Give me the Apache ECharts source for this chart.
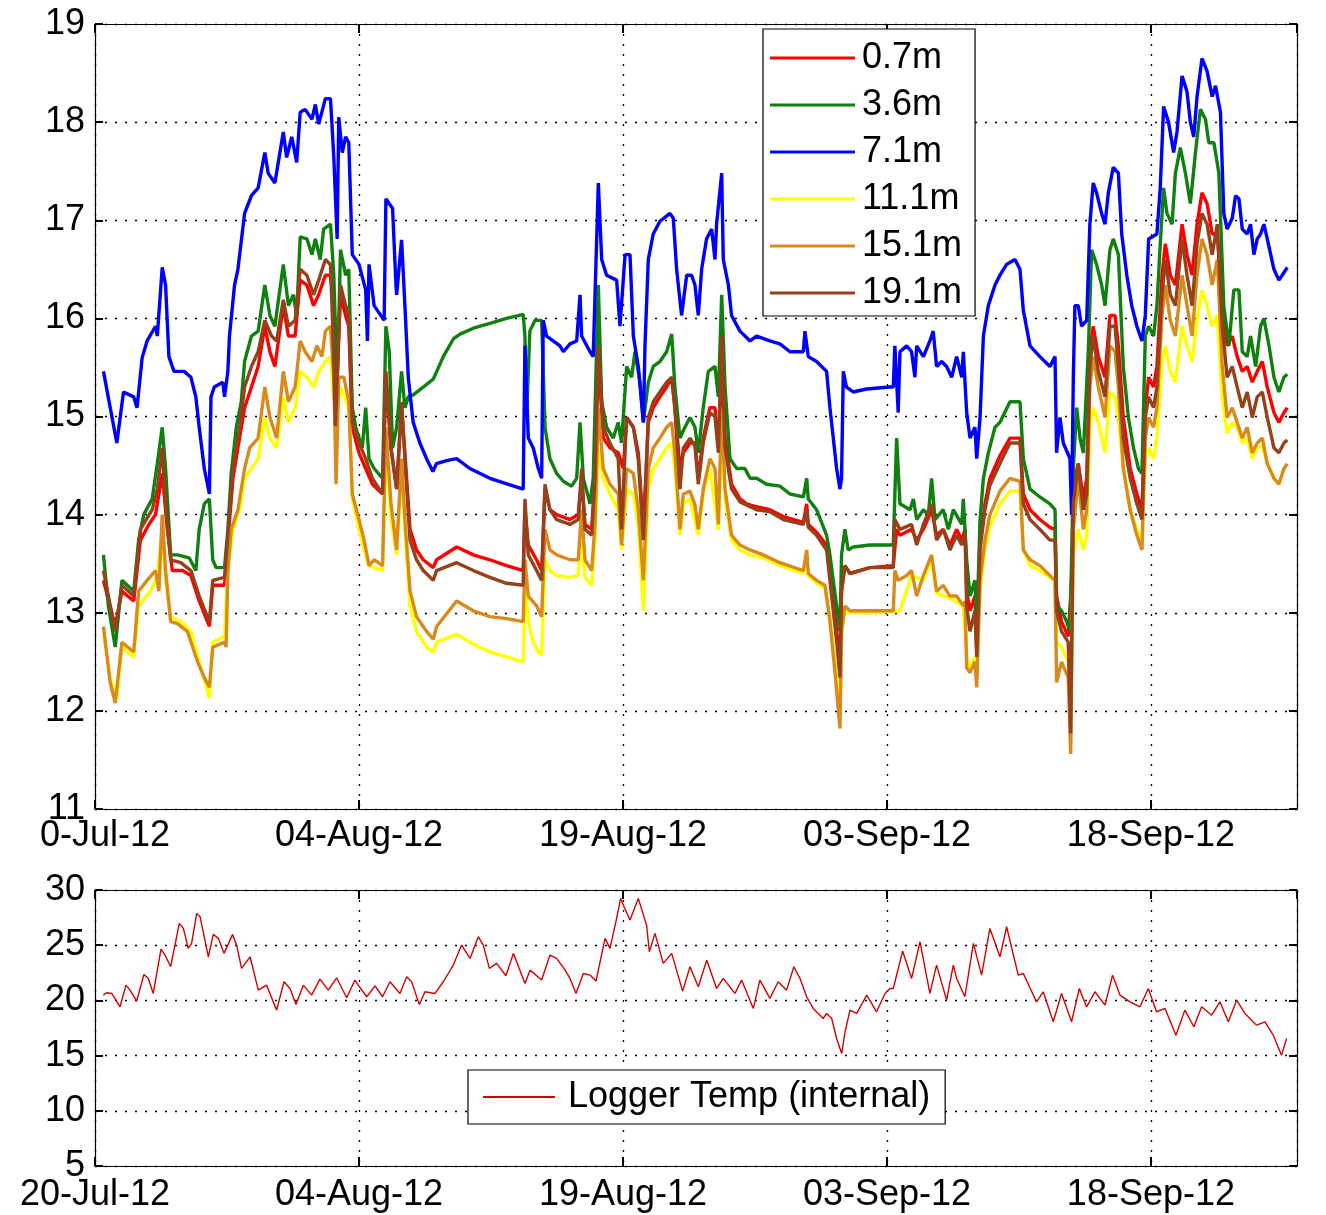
<!DOCTYPE html>
<html>
<head>
<meta charset="utf-8">
<script src="https://cdn.jsdelivr.net/npm/echarts@6/dist/echarts.min.js"></script>
<style>html,body{margin:0;padding:0;background:#fff}#c{width:1326px;height:1215px}</style>
</head>
<body>
<div id="c"></div>
<script>
// x values: days since 20-Jul-2012 00:00
const xTickLabels = ['20-Jul-12','04-Aug-12','19-Aug-12','03-Sep-12','18-Sep-12'];
const seriesNames = ['0.7m','3.6m','7.1m','11.1m','15.1m','19.1m'];
const loggerName = 'Logger Temp (internal)';

const s07 = [[0.48,13.33],[1.15,12.86],[1.53,13.22],[2.2,13.12],[2.58,13.74],[3.06,13.9],[3.44,14.0],[3.82,14.42],[4.11,13.85],[4.39,13.43],[4.97,13.43],[5.45,13.38],[5.92,13.12],[6.5,12.86],[6.69,13.28],[7.36,13.28],[7.55,13.74],[7.84,14.37],[8.12,14.68],[8.5,15.09],[8.89,15.3],[9.27,15.51],[9.65,15.92],[9.94,15.66],[10.22,15.51],[10.7,16.13],[10.99,15.82],[11.37,15.82],[11.66,16.39],[12.04,16.34],[12.42,16.13],[12.71,16.24],[13.09,16.44],[13.38,16.44],[13.57,16.13],[13.76,15.4],[13.95,16.24],[14.24,16.03],[14.42,15.92],[14.62,14.89],[15.0,14.63],[15.38,14.47],[15.76,14.31],[16.34,14.21],[16.53,15.4],[16.82,14.68],[17.14,14.26],[17.42,15.09],[17.61,14.63],[17.9,13.85],[18.27,13.64],[18.65,13.54],[19.22,13.46],[19.41,13.54],[20.55,13.67],[21.5,13.59],[22.44,13.54],[23.39,13.48],[24.33,13.43],[24.43,14.05],[24.62,13.69],[25.09,13.54],[25.38,13.43],[25.57,14.26],[25.85,14.05],[26.23,14.0],[26.99,13.95],[27.46,14.0],[27.65,14.37],[27.84,13.9],[28.22,13.85],[28.41,14.37],[28.6,15.61],[28.88,14.78],[29.26,14.68],[29.73,14.63],[30.02,14.47],[30.21,14.99],[30.59,14.89],[30.87,14.63],[31.16,13.85],[31.44,14.94],[31.72,15.09],[32.1,15.2],[32.48,15.3],[32.77,15.4],[32.95,15.09],[33.24,14.47],[33.43,14.63],[33.81,14.73],[34.09,14.73],[34.28,14.37],[34.56,14.78],[34.94,15.09],[35.23,15.09],[35.42,14.68],[35.61,15.51],[35.8,14.78],[36.17,14.31],[36.65,14.16],[37.03,14.11],[37.59,14.08],[38.35,14.05],[39.11,13.98],[40.25,13.92],[40.44,14.11],[40.53,13.9],[41.0,13.82],[41.57,13.69],[41.76,13.43],[42.14,12.81],[42.33,12.5],[42.42,13.22],[42.61,13.48],[42.9,13.4],[44.03,13.46],[45.36,13.48],[45.55,13.85],[45.74,13.79],[46.4,13.85],[46.69,13.74],[47.07,13.85],[47.54,14.05],[47.82,13.79],[48.2,13.85],[48.58,13.69],[48.96,13.85],[49.25,13.74],[49.44,13.85],[49.53,13.22],[49.72,13.02],[50.0,13.17],[50.1,12.65],[50.29,13.74],[50.57,14.11],[50.85,14.37],[51.42,14.6],[51.99,14.78],[52.56,14.78],[52.75,14.21],[53.13,14.05],[53.69,13.95],[54.26,13.87],[54.55,13.85],[54.64,13.17],[54.92,12.91],[55.3,12.76],[55.49,13.33],[55.68,14.37],[55.87,14.52],[56.16,14.16],[56.35,14.37],[56.53,15.66],[56.72,15.92],[57.01,15.61],[57.39,15.4],[57.67,16.03],[57.96,16.03],[58.15,15.72],[58.43,14.99],[58.82,14.47],[59.2,14.21],[59.49,14.05],[59.68,15.09],[59.87,15.4],[60.15,15.3],[60.34,15.51],[60.63,16.44],[60.82,16.76],[61.1,16.44],[61.39,16.34],[61.77,16.96],[62.05,16.65],[62.34,16.44],[62.62,16.96],[62.9,17.28],[63.19,17.17],[63.48,16.86],[63.77,16.86],[64.05,16.13],[64.33,15.72],[64.62,15.82],[64.9,15.61],[65.19,15.46],[65.47,15.51],[65.76,15.35],[66.04,15.46],[66.33,15.56],[66.61,15.3],[66.99,15.04],[67.27,14.94],[67.56,15.04],[67.75,15.09]];

const s36 = [[0.48,13.59],[0.76,13.07],[1.15,12.65],[1.53,13.33],[2.2,13.22],[2.48,13.74],[2.77,14.0],[3.25,14.16],[3.54,14.52],[3.82,14.89],[4.01,14.47],[4.3,13.59],[4.68,13.59],[5.35,13.56],[5.73,13.43],[5.92,13.85],[6.21,14.11],[6.5,14.16],[6.69,13.54],[6.88,13.46],[7.36,13.46],[7.55,13.85],[7.74,14.42],[8.03,14.89],[8.31,15.15],[8.5,15.56],[8.89,15.82],[9.27,15.87],[9.65,16.34],[9.94,16.03],[10.22,15.92],[10.7,16.55],[10.99,16.13],[11.27,16.24],[11.46,16.03],[11.66,16.83],[12.04,16.81],[12.33,16.65],[12.52,16.81],[12.8,16.6],[12.99,16.91],[13.38,16.96],[13.57,16.44],[13.76,15.3],[13.95,16.7],[14.24,16.44],[14.42,16.5],[14.62,15.09],[14.81,14.89],[15.19,14.68],[15.38,15.09],[15.57,14.57],[15.86,14.47],[16.34,14.37],[16.53,15.92],[16.72,15.66],[16.91,14.68],[17.14,14.89],[17.42,15.46],[17.61,15.09],[17.8,15.2],[18.08,15.22],[18.65,15.3],[19.22,15.38],[19.79,15.61],[20.36,15.79],[20.74,15.84],[21.5,15.9],[22.44,15.95],[23.39,16.0],[24.33,16.04],[24.43,15.82],[24.52,14.99],[24.71,15.87],[25.0,15.98],[25.38,15.98],[25.57,14.89],[25.85,14.57],[26.23,14.42],[26.61,14.34],[27.08,14.29],[27.37,14.37],[27.56,14.94],[27.75,14.37],[28.13,14.11],[28.31,14.37],[28.6,16.34],[28.79,15.15],[29.07,14.89],[29.45,14.78],[29.73,14.94],[29.92,14.73],[30.21,15.51],[30.49,15.4],[30.68,15.66],[30.97,15.35],[31.16,14.94],[31.44,15.35],[31.72,15.51],[32.1,15.56],[32.48,15.66],[32.77,15.84],[32.95,15.3],[33.24,14.78],[33.52,14.89],[33.81,14.99],[34.09,14.89],[34.28,14.63],[34.56,15.09],[34.85,15.46],[35.23,15.51],[35.42,15.2],[35.61,16.24],[35.8,15.3],[36.08,14.57],[36.46,14.47],[36.93,14.47],[37.22,14.37],[37.59,14.37],[38.16,14.31],[38.92,14.29],[39.49,14.21],[40.25,14.18],[40.44,14.37],[40.53,14.16],[41.0,14.05],[41.57,13.79],[41.76,13.59],[42.14,13.07],[42.33,12.81],[42.42,13.59],[42.61,13.85],[42.8,13.64],[43.08,13.67],[44.03,13.69],[45.36,13.69],[45.55,14.78],[45.74,14.11],[46.31,14.05],[46.5,14.16],[46.69,13.95],[47.07,14.05],[47.35,14.0],[47.54,14.37],[47.73,13.95],[48.2,14.05],[48.49,13.85],[48.77,14.05],[49.25,13.9],[49.34,14.16],[49.53,13.54],[49.72,13.17],[50.0,13.33],[50.1,12.81],[50.29,13.95],[50.48,14.37],[50.76,14.63],[51.14,14.89],[51.42,14.94],[51.99,15.15],[52.56,15.15],[52.75,14.57],[53.13,14.26],[53.69,14.18],[54.26,14.11],[54.55,14.05],[54.64,13.07],[54.92,13.02],[55.21,12.91],[55.4,12.81],[55.49,13.54],[55.59,14.47],[55.78,15.09],[55.97,14.78],[56.16,14.63],[56.44,15.66],[56.63,16.7],[56.91,16.55],[57.2,16.34],[57.39,16.13],[57.67,16.7],[57.86,16.81],[58.15,16.65],[58.43,15.51],[58.72,14.99],[59.01,14.68],[59.29,14.47],[59.49,14.42],[59.68,15.82],[59.87,15.92],[60.15,15.82],[60.34,16.13],[60.53,16.76],[60.72,17.33],[60.91,17.07],[61.2,16.96],[61.39,17.48],[61.67,17.74],[61.96,17.48],[62.24,17.17],[62.53,17.69],[62.81,18.13],[63.1,18.03],[63.29,17.79],[63.58,17.79],[63.86,17.48],[64.14,16.13],[64.43,15.72],[64.71,16.29],[65.0,16.29],[65.19,15.66],[65.47,15.61],[65.66,15.82],[65.95,15.51],[66.23,15.92],[66.42,16.0],[66.71,15.72],[66.99,15.4],[67.27,15.25],[67.56,15.4],[67.75,15.43]];

const s71 = [[0.48,15.46],[1.24,14.73],[1.62,15.25],[2.2,15.2],[2.39,15.09],[2.68,15.6],[2.96,15.77],[3.44,15.92],[3.54,15.82],[3.82,16.52],[4.01,16.34],[4.2,15.61],[4.49,15.46],[5.06,15.46],[5.45,15.4],[5.73,15.2],[5.92,14.89],[6.21,14.47],[6.5,14.21],[6.59,15.2],[6.78,15.3],[7.26,15.35],[7.36,15.2],[7.55,15.46],[7.64,15.82],[7.93,16.34],[8.12,16.5],[8.5,17.07],[8.89,17.25],[9.27,17.33],[9.65,17.69],[9.84,17.48],[10.22,17.38],[10.7,17.9],[10.89,17.64],[11.18,17.85],[11.46,17.59],[11.66,18.1],[11.94,18.13],[12.33,18.03],[12.52,18.18],[12.71,17.98],[13.09,18.24],[13.38,18.24],[13.57,17.64],[13.76,16.81],[13.85,18.05],[14.05,17.69],[14.24,17.85],[14.42,17.79],[14.62,16.65],[15.0,16.55],[15.38,16.29],[15.48,15.77],[15.57,16.55],[15.86,16.13],[16.43,15.98],[16.53,17.22],[16.91,17.12],[17.1,16.34],[17.14,16.24],[17.42,16.8],[17.61,16.13],[17.8,15.4],[18.08,14.94],[18.46,14.73],[18.84,14.57],[19.2,14.44],[19.4,14.52],[19.98,14.55],[20.55,14.57],[21.3,14.47],[22.44,14.37],[24.33,14.26],[24.43,15.72],[24.62,14.78],[24.9,14.68],[25.19,14.47],[25.38,14.37],[25.47,15.98],[25.66,15.82],[26.42,15.72],[26.61,15.66],[26.99,15.74],[27.37,15.77],[27.56,16.24],[27.65,15.82],[28.13,15.66],[28.31,15.61],[28.6,17.38],[28.79,16.6],[29.07,16.44],[29.64,16.39],[29.83,15.92],[30.12,16.65],[30.4,16.65],[30.59,15.82],[30.87,15.51],[31.16,14.94],[31.25,15.72],[31.44,16.6],[31.72,16.86],[32.1,16.99],[32.67,17.07],[32.86,17.02],[33.05,16.5],[33.33,16.03],[33.62,16.44],[33.9,16.44],[34.09,16.34],[34.28,16.03],[34.47,16.5],[34.75,16.81],[35.04,16.91],[35.23,16.6],[35.32,16.96],[35.61,17.48],[35.7,16.6],[35.99,16.34],[36.17,16.03],[36.65,15.87],[37.22,15.77],[37.59,15.82],[38.35,15.77],[38.92,15.74],[39.49,15.66],[40.25,15.66],[40.34,15.87],[40.53,15.61],[41.0,15.56],[41.57,15.46],[41.76,15.09],[42.14,14.47],[42.33,14.26],[42.42,14.37],[42.52,15.46],[42.7,15.3],[43.08,15.25],[43.84,15.28],[45.17,15.3],[45.36,15.3],[45.45,15.72],[45.64,15.04],[45.74,15.66],[46.12,15.72],[46.4,15.66],[46.59,15.4],[46.69,15.72],[47.07,15.61],[47.44,15.77],[47.63,15.87],[47.82,15.51],[48.11,15.56],[48.39,15.51],[48.68,15.4],[48.96,15.61],[49.25,15.4],[49.34,15.66],[49.53,15.04],[49.72,14.78],[50.0,14.89],[50.1,14.57],[50.29,14.99],[50.48,15.82],[50.76,16.13],[51.14,16.34],[51.42,16.44],[51.8,16.55],[52.27,16.6],[52.56,16.5],[52.75,16.08],[53.13,15.72],[53.69,15.61],[54.26,15.51],[54.55,15.61],[54.64,14.63],[54.83,14.99],[55.02,14.73],[55.4,14.57],[55.49,14.0],[55.59,15.4],[55.68,16.13],[55.87,16.13],[56.06,15.92],[56.35,15.98],[56.53,16.96],[56.72,17.38],[56.91,17.28],[57.2,17.07],[57.39,16.96],[57.58,17.28],[57.86,17.54],[58.15,17.48],[58.34,16.86],[58.63,16.44],[58.91,16.13],[59.2,15.92],[59.49,15.77],[59.68,16.03],[59.87,16.81],[60.06,16.83],[60.34,16.86],[60.53,17.33],[60.72,18.16],[61.0,18.0],[61.29,17.69],[61.48,17.9],[61.77,18.47],[62.05,18.31],[62.24,18.0],[62.43,17.85],[62.62,18.26],[62.9,18.65],[63.19,18.52],[63.48,18.26],[63.67,18.37],[63.95,18.1],[64.14,17.07],[64.33,16.91],[64.62,17.02],[64.81,17.25],[65.0,17.22],[65.19,16.91],[65.47,16.86],[65.66,16.96],[65.85,16.65],[66.04,16.81],[66.23,16.86],[66.42,16.96],[66.61,16.81],[66.99,16.5],[67.27,16.39],[67.46,16.44],[67.75,16.52]];

const s111 = [[0.48,12.81],[0.86,12.34],[1.24,12.13],[1.53,12.65],[2.2,12.55],[2.48,13.07],[3.15,13.22],[3.54,13.38],[3.82,13.85],[4.01,13.33],[4.3,12.96],[4.87,12.91],[5.45,12.81],[6.02,12.44],[6.5,12.13],[6.69,12.7],[7.36,12.76],[7.55,13.43],[7.84,13.85],[8.22,14.05],[8.5,14.37],[8.89,14.47],[9.27,14.57],[9.65,14.99],[9.94,14.78],[10.32,14.68],[10.7,15.2],[10.99,14.94],[11.37,15.09],[11.66,15.46],[12.04,15.4],[12.42,15.3],[12.71,15.46],[13.09,15.56],[13.38,15.61],[13.57,15.2],[13.76,15.09],[13.95,15.3],[14.42,15.09],[14.62,14.16],[15.0,13.85],[15.29,13.64],[15.57,13.48],[16.34,13.43],[16.53,14.73],[16.82,13.95],[17.14,13.59],[17.42,14.47],[17.61,13.85],[17.9,13.07],[18.27,12.81],[18.84,12.65],[19.22,12.6],[19.41,12.7],[20.55,12.78],[21.5,12.68],[22.44,12.6],[23.39,12.55],[24.33,12.5],[24.43,13.33],[24.62,12.91],[24.9,12.7],[25.19,12.6],[25.38,12.57],[25.57,13.54],[25.85,13.43],[26.23,13.38],[26.99,13.36],[27.46,13.38],[27.65,13.85],[27.84,13.36],[28.22,13.28],[28.41,13.74],[28.6,14.68],[28.88,14.37],[29.26,14.21],[29.73,14.05],[29.92,13.64],[30.21,14.26],[30.59,14.21],[30.87,13.9],[31.16,13.02],[31.44,14.26],[31.72,14.47],[32.1,14.57],[32.48,14.68],[32.77,14.73],[32.95,14.47],[33.24,13.79],[33.43,14.11],[33.81,14.16],[34.28,13.79],[34.56,14.21],[34.94,14.47],[35.42,13.85],[35.61,14.89],[35.8,14.16],[36.17,13.74],[36.65,13.64],[37.22,13.59],[37.97,13.56],[38.92,13.48],[40.25,13.4],[40.44,13.59],[40.53,13.38],[41.0,13.3],[41.48,13.25],[41.76,12.96],[42.05,12.5],[42.33,12.08],[42.42,12.81],[42.61,13.02],[42.9,13.0],[44.03,13.0],[45.74,13.02],[46.4,13.38],[47.07,13.33],[47.54,13.54],[47.82,13.2],[48.58,13.15],[49.34,13.07],[49.53,12.55],[49.72,12.44],[50.0,12.55],[50.1,12.34],[50.29,13.22],[50.57,13.64],[50.85,13.88],[51.42,14.11],[51.99,14.24],[52.56,14.24],[52.75,13.64],[53.13,13.48],[53.69,13.43],[54.26,13.36],[54.55,13.33],[54.64,12.7],[54.92,12.65],[55.3,12.5],[55.44,12.29],[55.59,13.59],[55.87,13.85],[56.16,13.64],[56.35,13.79],[56.53,14.89],[56.72,15.09],[57.01,14.94],[57.39,14.63],[57.67,15.25],[57.96,15.2],[58.15,14.99],[58.43,14.47],[58.82,14.05],[59.2,13.85],[59.49,13.74],[59.68,14.57],[59.87,14.68],[60.15,14.57],[60.34,14.78],[60.63,15.56],[60.82,15.72],[61.1,15.46],[61.39,15.35],[61.77,15.92],[62.05,15.72],[62.34,15.56],[62.62,15.98],[62.9,16.29],[63.19,16.13],[63.48,15.92],[63.77,16.03],[64.05,15.2],[64.33,14.83],[64.62,14.94],[64.9,14.89],[65.19,14.73],[65.47,14.78],[65.76,14.57],[66.04,14.68],[66.33,14.7],[66.61,14.52],[66.99,14.37],[67.27,14.31],[67.56,14.47]];

const s151 = [[0.48,12.86],[0.86,12.29],[1.15,12.08],[1.53,12.7],[2.2,12.6],[2.48,13.22],[2.96,13.33],[3.44,13.43],[3.63,13.22],[3.82,14.0],[4.01,13.43],[4.3,12.91],[4.68,12.89],[5.25,12.81],[5.83,12.5],[6.21,12.34],[6.5,12.24],[6.69,12.65],[7.36,12.7],[7.45,12.65],[7.55,13.43],[7.74,13.85],[8.12,14.05],[8.5,14.47],[8.79,14.68],[9.27,14.78],[9.65,15.3],[9.94,14.99],[10.32,14.78],[10.7,15.46],[10.99,15.15],[11.37,15.3],[11.66,15.77],[11.94,15.66],[12.33,15.56],[12.61,15.72],[12.9,15.61],[13.09,15.87],[13.38,15.92],[13.57,15.4],[13.7,14.31],[13.85,15.4],[14.14,15.4],[14.42,15.15],[14.62,14.21],[15.0,13.95],[15.29,13.74],[15.57,13.48],[15.86,13.54],[16.34,13.48],[16.53,14.89],[16.82,14.11],[17.14,13.64],[17.42,14.57],[17.61,13.95],[17.9,13.22],[18.27,12.96],[18.84,12.81],[19.22,12.73],[19.41,12.86],[20.55,13.12],[21.5,13.02],[22.44,12.96],[23.39,12.94],[24.33,12.91],[24.43,13.54],[24.62,13.17],[25.09,13.07],[25.38,12.96],[25.57,13.85],[25.85,13.64],[26.23,13.59],[26.99,13.54],[27.46,13.54],[27.65,14.05],[27.84,13.54],[28.22,13.43],[28.41,13.9],[28.6,15.09],[28.88,14.47],[29.26,14.31],[29.73,14.21],[29.92,13.69],[30.21,14.47],[30.59,14.42],[30.87,14.05],[31.16,13.33],[31.44,14.47],[31.72,14.68],[32.1,14.78],[32.48,14.89],[32.77,14.94],[32.95,14.63],[33.24,13.85],[33.43,14.21],[33.81,14.24],[34.09,14.1],[34.28,13.85],[34.56,14.26],[34.94,14.57],[35.23,14.47],[35.42,13.9],[35.61,15.09],[35.8,14.26],[36.17,13.79],[36.65,13.69],[37.22,13.64],[37.97,13.59],[38.92,13.51],[40.25,13.43],[40.44,13.64],[40.53,13.4],[41.0,13.33],[41.48,13.28],[41.76,12.91],[42.05,12.39],[42.33,11.82],[42.42,12.81],[42.61,13.07],[42.9,13.02],[44.03,13.02],[45.36,13.02],[45.45,13.43],[45.64,13.33],[46.12,13.38],[46.4,13.43],[46.69,13.17],[47.07,13.38],[47.54,13.59],[47.82,13.22],[48.2,13.28],[48.58,13.17],[48.96,13.17],[49.34,13.07],[49.44,13.12],[49.53,12.44],[49.72,12.39],[50.0,12.5],[50.1,12.24],[50.29,13.33],[50.57,13.74],[50.85,14.0],[51.42,14.24],[51.99,14.37],[52.56,14.34],[52.75,13.64],[53.13,13.54],[53.69,13.48],[54.26,13.38],[54.55,13.33],[54.64,12.29],[54.92,12.5],[55.3,12.34],[55.44,11.56],[55.59,13.85],[55.87,14.37],[56.16,13.85],[56.35,14.05],[56.53,15.3],[56.72,15.61],[57.01,15.3],[57.39,14.99],[57.67,15.72],[57.96,15.66],[58.15,15.3],[58.43,14.47],[58.82,14.05],[59.2,13.79],[59.49,13.64],[59.68,14.78],[59.87,14.99],[60.15,14.89],[60.34,15.09],[60.63,16.03],[60.82,16.34],[61.1,15.98],[61.39,15.82],[61.77,16.44],[62.05,16.13],[62.34,15.82],[62.62,16.44],[62.9,16.81],[63.19,16.65],[63.48,16.34],[63.77,16.6],[64.05,15.51],[64.33,14.99],[64.62,15.09],[64.9,14.94],[65.19,14.78],[65.47,14.89],[65.76,14.63],[66.04,14.73],[66.33,14.78],[66.61,14.52],[66.99,14.37],[67.27,14.31],[67.56,14.47],[67.75,14.52]];

const s191 = [[0.48,13.43],[1.15,12.81],[1.53,13.28],[2.2,13.17],[2.58,13.85],[3.25,14.05],[3.54,14.26],[3.82,14.68],[4.01,14.11],[4.3,13.54],[4.87,13.51],[5.45,13.43],[5.92,13.17],[6.5,12.91],[6.69,13.33],[7.36,13.36],[7.55,13.79],[7.84,14.47],[8.22,14.89],[8.5,15.3],[8.89,15.51],[9.27,15.66],[9.65,15.98],[10.03,15.82],[10.32,15.77],[10.7,16.19],[10.99,15.92],[11.37,15.98],[11.66,16.5],[12.04,16.44],[12.42,16.24],[12.71,16.39],[13.09,16.6],[13.38,16.55],[13.51,15.92],[13.66,14.9],[13.95,16.34],[14.24,16.13],[14.42,16.03],[14.62,14.94],[15.0,14.73],[15.38,14.57],[15.76,14.37],[16.34,14.21],[16.53,15.46],[16.82,14.68],[17.14,14.26],[17.42,15.15],[17.61,14.57],[17.9,13.74],[18.27,13.54],[18.65,13.43],[19.22,13.33],[19.41,13.43],[20.55,13.51],[21.5,13.43],[22.44,13.36],[23.39,13.3],[24.33,13.28],[24.43,14.16],[24.62,13.59],[25.09,13.43],[25.38,13.33],[25.57,14.31],[25.85,14.05],[26.23,13.95],[26.99,13.9],[27.46,13.95],[27.65,14.47],[27.84,13.85],[28.22,13.79],[28.41,14.37],[28.6,15.72],[28.88,14.89],[29.26,14.73],[29.73,14.57],[29.92,13.85],[30.21,14.99],[30.59,14.89],[30.87,14.57],[31.16,13.74],[31.44,14.99],[31.72,15.15],[32.1,15.25],[32.48,15.35],[32.77,15.4],[32.95,15.09],[33.24,14.26],[33.43,14.68],[33.81,14.78],[34.09,14.7],[34.28,14.31],[34.56,14.73],[34.94,15.04],[35.23,15.0],[35.42,14.63],[35.61,15.82],[35.8,14.68],[36.17,14.26],[36.65,14.13],[37.59,14.05],[38.35,14.03],[39.11,13.95],[40.25,13.9],[40.44,14.05],[40.53,13.87],[41.0,13.79],[41.57,13.64],[41.76,13.33],[42.14,12.71],[42.33,12.34],[42.42,13.22],[42.61,13.48],[42.9,13.4],[44.03,13.46],[45.36,13.46],[45.45,13.95],[45.74,13.85],[46.4,13.9],[46.69,13.69],[47.07,13.9],[47.54,14.11],[47.82,13.74],[48.2,13.85],[48.58,13.64],[48.96,13.79],[49.25,13.69],[49.44,13.79],[49.53,13.07],[49.72,12.81],[50.0,13.02],[50.1,12.55],[50.29,13.64],[50.57,14.05],[50.85,14.3],[51.42,14.52],[51.99,14.73],[52.56,14.73],[52.75,14.11],[53.13,13.95],[53.69,13.85],[54.26,13.74],[54.55,13.74],[54.64,13.02],[54.92,12.81],[55.3,12.7],[55.44,11.77],[55.59,14.11],[55.87,14.52],[56.16,14.05],[56.35,14.21],[56.53,15.51],[56.72,15.82],[57.01,15.46],[57.39,15.2],[57.67,15.92],[57.96,15.92],[58.15,15.51],[58.43,14.78],[58.82,14.37],[59.2,14.11],[59.49,13.95],[59.68,14.99],[59.87,15.2],[60.15,15.09],[60.34,15.3],[60.63,16.24],[60.82,16.6],[61.1,16.24],[61.39,16.13],[61.77,16.81],[62.05,16.44],[62.34,16.13],[62.62,16.76],[62.9,17.07],[63.19,16.96],[63.48,16.65],[63.77,16.96],[64.05,15.92],[64.33,15.4],[64.62,15.51],[64.9,15.3],[65.19,15.09],[65.47,15.25],[65.76,14.99],[66.04,15.2],[66.33,15.25],[66.61,14.99],[66.99,14.68],[67.27,14.63],[67.56,14.73],[67.75,14.76]];

const logger = [[0.47,20.48],[0.66,20.69],[0.95,20.63],[1.42,19.42],[1.76,21.38],[1.99,20.93],[2.37,19.93],[2.78,22.35],[3.03,21.99],[3.31,20.63],[3.75,24.65],[3.98,24.11],[4.3,23.05],[4.79,26.98],[5.02,26.52],[5.3,24.71],[5.49,25.16],[5.78,27.88],[5.97,27.58],[6.44,23.95],[6.72,25.98],[7.01,25.62],[7.33,24.26],[7.82,25.98],[8.05,25.01],[8.33,22.9],[8.81,23.95],[9.28,20.93],[9.75,21.38],[10.32,19.12],[10.74,21.69],[11.08,21.08],[11.42,19.63],[11.84,21.38],[12.31,20.48],[12.78,21.93],[13.26,20.93],[13.73,22.05],[14.3,20.24],[14.77,21.84],[14.96,21.38],[15.44,20.33],[15.91,21.32],[16.34,20.33],[16.76,21.69],[17.33,20.63],[17.71,22.14],[17.99,21.69],[18.43,19.63],[18.75,20.78],[19.32,20.63],[19.79,21.69],[20.36,23.2],[20.83,25.01],[21.31,23.8],[21.78,25.77],[22.06,25.01],[22.41,22.9],[22.82,23.35],[23.35,22.23],[23.77,24.26],[23.96,23.5],[24.43,21.54],[24.72,22.74],[25.38,21.84],[25.85,24.11],[26.23,23.8],[26.65,22.9],[26.99,21.99],[27.33,20.63],[27.75,22.44],[28.13,22.29],[28.47,21.75],[28.98,25.62],[29.26,24.71],[29.6,27.13],[29.87,29.24],[30.06,28.49],[30.4,27.28],[30.87,29.24],[31.34,26.83],[31.5,24.41],[31.82,26.07],[32.29,23.35],[32.77,24.26],[33.39,20.84],[33.81,23.05],[34.28,21.23],[34.76,23.65],[35.32,21.08],[35.7,21.99],[36.36,20.63],[36.74,21.84],[37.41,19.27],[37.78,21.84],[38.35,20.18],[38.82,21.69],[39.3,20.93],[39.71,23.05],[40.06,21.99],[40.44,20.33],[40.81,19.27],[41.38,18.36],[41.57,18.82],[41.86,18.36],[42.14,16.55],[42.43,15.19],[42.62,17.15],[42.9,19.12],[43.28,18.82],[43.85,20.48],[44.41,18.97],[44.89,20.63],[45.17,21.08],[45.36,21.08],[45.89,24.47],[46.4,21.99],[46.88,25.31],[47.44,20.63],[47.82,23.2],[48.39,20.02],[48.77,23.2],[48.96,21.99],[49.43,20.33],[49.91,25.16],[50.38,22.29],[50.85,26.52],[51.42,23.95],[51.8,26.67],[52.46,22.29],[52.75,22.44],[53.5,19.87],[53.88,20.78],[54.45,18.06],[54.92,20.63],[55.49,18.06],[55.93,21.08],[56.34,19.42],[56.82,20.78],[57.39,19.57],[57.82,22.29],[58.24,20.48],[58.81,19.87],[59.38,19.42],[59.85,21.08],[60.32,18.97],[60.8,19.27],[61.42,16.85],[61.93,19.12],[62.44,17.61],[62.88,19.42],[63.45,18.66],[63.92,19.87],[64.4,18.06],[64.87,20.02],[65.34,18.82],[66.0,17.76],[66.48,18.06],[66.95,16.85],[67.42,15.04],[67.71,16.55]];

const topData = [s07, s36, s71, s111, s151, s191];
const colors = ['#ff0000','#108010','#0000ff','#ffff00','#d98a1c','#96411a'];

const FONT = '"Liberation Sans", Arial, sans-serif';
const X_MAX = 68.3;

function xLabel(v){
  const k = v/15;
  return Math.abs(k - Math.round(k)) < 1e-6 ? (xTickLabels[Math.round(k)] || '') : '';
}
const gridStyle = {show:true, lineStyle:{color:'#000', width:1.3, type:[2,8]}};
function xAxisMain(gi, margin){
  return {type:'value', gridIndex:gi, min:0, max:X_MAX, interval:15, position:'bottom',
    axisLine:{show:true, onZero:false, lineStyle:{color:'#000', width:1.2}},
    axisTick:{show:true, inside:true, length:9, lineStyle:{color:'#000', width:2}},
    axisLabel:{show:true, formatter:xLabel, color:'#000', fontSize:36, fontFamily:FONT, margin:margin, showMaxLabel:false},
    splitLine:gridStyle};
}
function xAxisTop(gi){
  return {type:'value', gridIndex:gi, min:0, max:X_MAX, interval:15, position:'top',
    axisLine:{show:true, onZero:false, lineStyle:{color:'#000', width:1.2}},
    axisTick:{show:true, inside:true, length:9, lineStyle:{color:'#000', width:2}},
    axisLabel:{show:false}, splitLine:{show:false}};
}
function yAxisMain(gi, mn, mx, iv){
  return {type:'value', gridIndex:gi, min:mn, max:mx, interval:iv, position:'left',
    axisLine:{show:true, onZero:false, lineStyle:{color:'#000', width:1.2}},
    axisTick:{show:true, inside:true, length:8, lineStyle:{color:'#000', width:2}},
    axisLabel:{show:true, color:'#000', fontSize:36, fontFamily:FONT, margin:10},
    splitLine:gridStyle};
}
function yAxisRight(gi, mn, mx, iv){
  return {type:'value', gridIndex:gi, min:mn, max:mx, interval:iv, position:'right',
    axisLine:{show:true, onZero:false, lineStyle:{color:'#000', width:1.2}},
    axisTick:{show:true, inside:true, length:8, lineStyle:{color:'#000', width:2}},
    axisLabel:{show:false}, splitLine:{show:false}};
}

const series = seriesNames.map((n,i)=>({
  name:n, type:'line', xAxisIndex:0, yAxisIndex:0, data:topData[i],
  showSymbol:false, symbol:'none', color:colors[i],
  lineStyle:{width:3.4, color:colors[i]}, z:2+i
}));
series.push({
  name:loggerName, type:'line', xAxisIndex:2, yAxisIndex:2, data:logger,
  showSymbol:false, symbol:'none', color:'#d40000',
  lineStyle:{width:1.4, color:'#d40000'}
});

const chart = echarts.init(document.getElementById('c'), null, {renderer:'canvas'});
chart.setOption({
  animation:false,
  backgroundColor:'#fff',
  grid:[
    {left:95, top:24, width:1202, height:785, containLabel:false},
    {left:95, top:890, width:1202, height:276, containLabel:false}
  ],
  xAxis:[xAxisMain(0,9), xAxisTop(0), xAxisMain(1,11), xAxisTop(1)],
  yAxis:[yAxisMain(0,11,19,1), yAxisRight(0,11,19,1), yAxisMain(1,5,30,5), yAxisRight(1,5,30,5)],
  legend:[
    {data:seriesNames.map(n=>({name:n, icon:'rect'})), orient:'vertical', left:763, top:29,
     itemWidth:85, itemHeight:3, itemGap:7, padding:[9,13,3,7],
     borderColor:'#000', borderWidth:1.2, backgroundColor:'#fff', selectedMode:false, z:20,
     textStyle:{fontSize:36, fontFamily:FONT, color:'#000', lineHeight:40, padding:[0,0,0,2]}},
    {data:[{name:loggerName, icon:'rect'}], orient:'horizontal', left:468, top:1070,
     itemWidth:72, itemHeight:2, padding:[7,15,7,15],
     borderColor:'#000', borderWidth:1.2, backgroundColor:'#fff', selectedMode:false, z:20,
     textStyle:{fontSize:36, fontFamily:FONT, color:'#000', lineHeight:40, padding:[0,0,0,8]}}
  ],
  graphic:[
    {type:'rect', shape:{x:12, y:814, width:27, height:44}, style:{fill:'#fff'}, z:100}
  ],
  series:series
});
</script>
</body>
</html>
